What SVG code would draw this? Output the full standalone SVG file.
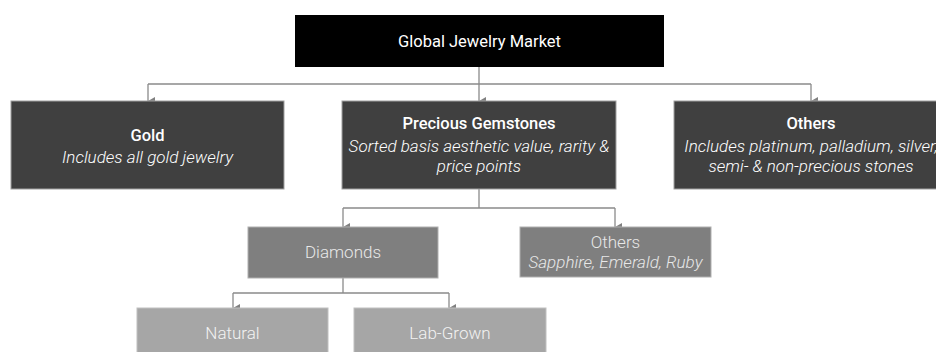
<svg xmlns="http://www.w3.org/2000/svg" width="936" height="352" viewBox="0 0 936 352">
<style>
text{font-family:Roboto,"Liberation Sans",sans-serif;text-anchor:middle}
.l0{fill:#000}
.l1{fill:#404040;stroke:#a0a0a0;stroke-width:1}
.l2{fill:#7f7f7f;stroke:#b0b0b0;stroke-width:1}
.l3{fill:#a6a6a6;stroke:#c0c0c0;stroke-width:1}
.t{font-size:16.5px}
.b{font-size:16.5px;font-weight:500;fill:#fff}
.i{font-size:17px;font-style:italic;font-weight:300}
.r{font-size:17px;font-weight:300}
.w{fill:#fff}
.g2{fill:#e8e8e8}
.g3{fill:#f2f2f2}
.c{fill:none;stroke:#8a8a8a;stroke-width:1.3}
</style>
<defs>
<marker id="a" markerWidth="8" markerHeight="7" refX="4" refY="7" orient="auto-start-reverse" markerUnits="userSpaceOnUse" viewBox="0 0 8 7"><path d="M0,0 L8,0 L4,7 Z" fill="#808080"/></marker>
</defs>
<g id="connectors">
<path class="c" d="M479,67 V84"/>
<path class="c" d="M148,84 H811"/>
<path class="c" d="M148,84 V101" marker-end="url(#a)"/>
<path class="c" d="M479,84 V101" marker-end="url(#a)"/>
<path class="c" d="M811,84 V101" marker-end="url(#a)"/>
<path class="c" d="M479,189 V208"/>
<path class="c" d="M343,208 H615"/>
<path class="c" d="M343,208 V227" marker-end="url(#a)"/>
<path class="c" d="M615,208 V227" marker-end="url(#a)"/>
<path class="c" d="M343,278 V293"/>
<path class="c" d="M233,293 H449"/>
<path class="c" d="M233,293 V308" marker-end="url(#a)"/>
<path class="c" d="M449,293 V308" marker-end="url(#a)"/>
</g>
<g id="root">
<rect class="l0" x="295" y="15" width="369" height="52"/>
<text class="t w" x="479.5" y="47">Global Jewelry Market</text>
</g>
<g id="gold">
<rect class="l1" x="11" y="101" width="273" height="88"/>
<text class="b" x="147.5" y="141">Gold</text>
<text class="i w" x="147.5" y="163">Includes all gold jewelry</text>
</g>
<g id="gemstones">
<rect class="l1" x="342" y="101" width="274" height="88"/>
<text class="b" x="479" y="129">Precious Gemstones</text>
<text class="i w" x="479" y="152">Sorted basis aesthetic value, rarity &amp;</text>
<text class="i w" x="479" y="172">price points</text>
</g>
<g id="others">
<rect class="l1" x="674" y="101" width="274" height="88"/>
<text class="b" x="811" y="129">Others</text>
<text class="i w" x="811" y="152">Includes platinum, palladium, silver,</text>
<text class="i w" x="811" y="172">semi- &amp; non-precious stones</text>
</g>
<g id="diamonds">
<rect class="l2" x="248" y="227" width="190" height="51"/>
<text class="r g2" x="343" y="258">Diamonds</text>
</g>
<g id="others2">
<rect class="l2" x="520" y="227" width="191" height="50"/>
<text class="r g2" x="615.5" y="248">Others</text>
<text class="i g2" x="615.5" y="268">Sapphire, Emerald, Ruby</text>
</g>
<g id="natural">
<rect class="l3" x="137" y="308" width="191" height="50"/>
<text class="r g3" x="232.5" y="339">Natural</text>
</g>
<g id="labgrown">
<rect class="l3" x="354" y="308" width="192" height="50"/>
<text class="r g3" x="450" y="339">Lab-Grown</text>
</g>
</svg>
